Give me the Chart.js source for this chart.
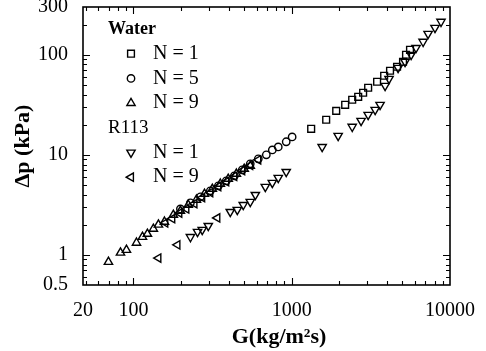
<!DOCTYPE html>
<html>
<head>
<meta charset="utf-8">
<script src="https://cdn.jsdelivr.net/npm/chart.js@4/dist/chart.umd.min.js"></script>
<style>
  html, body { margin: 0; padding: 0; background: #fff; }
</style>
</head>
<body>
<canvas id="chart" width="486" height="351"></canvas>
<script>
// axis ticks (the original labels the left end "20")
const xTickValues = [48, 100, 1000, 10000];
const xTickLabels = ['20', '100', '1000', '10000'];
const yTickValues = [0.5, 1, 10, 100, 300];
const yTickLabels = ['0.5', '1', '10', '100', '300'];

// Water, N = 1 (squares)
const waterN1G = [1327, 1651, 1910, 2176, 2410, 2630, 2826, 3040, 3463, 3837, 4180, 4630, 5050, 5275, 5590];
const waterN1P = [18.2, 22.4, 27.5, 31.6, 35.5, 38.0, 41.7, 46.8, 53.7, 61.7, 69.2, 75.9, 85.1, 100, 112];

// Water, N = 5 (circles)
const waterN5G = [198, 229, 265, 306, 344, 386, 434, 487, 547, 615, 691, 754, 822, 923, 1006];
const waterN5P = [2.88, 3.31, 3.80, 4.37, 4.90, 5.50, 6.17, 7.08, 8.13, 9.12, 10.0, 11.2, 12.0, 13.5, 15.1];

// Water, N = 9 (triangles up)
const waterN9G = [69.5, 82.8, 90.3, 104.5, 114, 122.5, 133.6, 143.8, 157, 178.7, 198, 222, 250, 281, 315, 354, 397, 447, 501, 547];
const waterN9P = [0.85, 1.05, 1.12, 1.32, 1.51, 1.62, 1.82, 2.0, 2.14, 2.51, 2.75, 3.16, 3.55, 4.07, 4.57, 5.13, 5.75, 6.46, 7.24, 7.76];

// R113, N = 1 (triangles down)
const r113N1G = [229, 254, 272, 297, 409, 453, 494, 547, 589, 681, 754, 822, 923,
                 1557, 1965, 2410, 2743, 3040, 3366, 3615,
                 3890, 4120, 4700, 5200, 5680, 6100, 6760, 7270, 8040, 8770];
const r113N1P = [1.51, 1.70, 1.78, 1.95, 2.69, 2.82, 3.16, 3.39, 3.98, 4.79, 5.25, 5.89, 6.76,
                 12.0, 15.5, 19.1, 21.9, 25.1, 28.2, 31.6,
                 49, 57.5, 74.1, 85.1, 100, 117, 135, 162, 186, 214];

// R113, N = 9 (triangles left)
const r113N9G = [143.8, 189.7, 339, 159, 176, 195, 216, 243, 272, 306, 344, 386, 434, 487, 547, 615];
const r113N9P = [0.93, 1.26, 2.34, 2.09, 2.30, 2.62, 2.88, 3.25, 3.74, 4.20, 4.82, 5.38, 6.10, 6.95, 7.85, 8.90];

const toPoints = (xs, ys) => xs.map((x, i) => ({ x, y: ys[i] }));

Chart.defaults.font.family = '"Liberation Serif", "Times New Roman", serif';
Chart.defaults.color = '#000';

function marker(label, group, style, rotation, radius, xs, ys) {
  return {
    label, group,
    data: toPoints(xs, ys),
    pointStyle: style,
    rotation: rotation,
    pointRadius: radius,
    pointHoverRadius: radius,
    pointBorderWidth: 1.4,
    borderColor: '#000',
    backgroundColor: 'rgba(0,0,0,0)',
    showLine: false
  };
}

function logMarks(min, max) {
  const out = [];
  for (let e = Math.floor(Math.log10(min)); e <= Math.ceil(Math.log10(max)); e++) {
    for (let m = 1; m < 10; m++) {
      const v = m * Math.pow(10, e);
      if (v > min * 1.001 && v < max * 0.999) out.push({ v, major: m === 1 });
    }
  }
  return out;
}

// frame with inward ticks on all four sides, plus axis titles
const framePlugin = {
  id: 'frame',
  afterDraw(chart) {
    const { ctx, chartArea: a, scales: { x, y } } = chart;
    ctx.save();
    ctx.strokeStyle = '#000';
    ctx.lineWidth = 1.6;
    ctx.strokeRect(a.left, a.top, a.right - a.left, a.bottom - a.top);
    ctx.lineWidth = 1.1;
    ctx.beginPath();
    logMarks(x.min, x.max).forEach(t => {
      const px = Math.round(x.getPixelForValue(t.v)) + 0.5;
      const len = t.major ? 7 : 4;
      ctx.moveTo(px, a.bottom); ctx.lineTo(px, a.bottom - len);
      ctx.moveTo(px, a.top); ctx.lineTo(px, a.top + len);
    });
    logMarks(y.min, y.max).forEach(t => {
      const py = Math.round(y.getPixelForValue(t.v)) + 0.5;
      const len = t.major ? 7 : 4;
      ctx.moveTo(a.left, py); ctx.lineTo(a.left + len, py);
      ctx.moveTo(a.right, py); ctx.lineTo(a.right - len, py);
    });
    ctx.stroke();

    ctx.fillStyle = '#000';
    ctx.font = 'bold 22px "Liberation Serif", serif';
    ctx.textAlign = 'center';
    ctx.textBaseline = 'middle';
    ctx.fillText('G(kg/m²s)', a.left + 196, 337);
    ctx.translate(23, (a.top + a.bottom) / 2);
    ctx.rotate(-Math.PI / 2);
    ctx.fillText('Δp (kPa)', 0, 0);
    ctx.restore();
  }
};

// grouped legend drawn inside the plot
const legendPlugin = {
  id: 'groupLegend',
  afterDraw(chart) {
    const { ctx, chartArea: a } = chart;
    ctx.save();
    ctx.fillStyle = '#000';
    ctx.strokeStyle = '#000';
    ctx.lineWidth = 1.4;
    ctx.textBaseline = 'middle';
    ctx.textAlign = 'left';
    let row = 0;
    let lastGroup = null;
    const rowY = r => a.top + 22 + r * 24.7;
    chart.data.datasets.forEach(ds => {
      if (ds.group !== lastGroup) {
        ctx.fillStyle = '#000';
        ctx.font = (ds.group === 'Water' ? 'bold 18px' : '19px') + ' "Liberation Serif", serif';
        ctx.fillText(ds.group, a.left + 25, rowY(row));
        row++;
        lastGroup = ds.group;
      }
      const yy = rowY(row);
      ctx.fillStyle = 'rgba(0,0,0,0)';
      Chart.helpers.drawPoint(ctx, {
        pointStyle: ds.pointStyle, rotation: ds.rotation,
        radius: ds.pointRadius, borderWidth: 1.4
      }, a.left + 48, yy);
      ctx.fillStyle = '#000';
      ctx.font = '20px "Liberation Serif", serif';
      ctx.fillText(ds.label, a.left + 70, yy);
      row++;
    });
    ctx.restore();
  }
};

new Chart(document.getElementById('chart'), {
  type: 'scatter',
  data: {
    datasets: [
      marker('N = 1', 'Water', 'rect', 0, 4.8, waterN1G, waterN1P),
      marker('N = 5', 'Water', 'circle', 0, 3.7, waterN5G, waterN5P),
      marker('N = 9', 'Water', 'triangle', 0, 4.8, waterN9G, waterN9P),
      marker('N = 1', 'R113', 'triangle', 180, 4.8, r113N1G, r113N1P),
      marker('N = 9', 'R113', 'triangle', 270, 4.8, r113N9G, r113N9P)
    ]
  },
  options: {
    responsive: false,
    animation: false,
    layout: { padding: { left: 0, right: 36, top: 7, bottom: 0 } },
    plugins: { legend: { display: false }, tooltip: { enabled: false } },
    scales: {
      x: {
        type: 'logarithmic',
        min: 48,
        max: 10000,
        grid: { display: false, drawTicks: false },
        border: { display: false },
        ticks: {
          padding: 14,
          font: { size: 20 },
          autoSkip: false,
          maxRotation: 0,
          callback: (v, i) => xTickLabels[i]
        },
        afterBuildTicks: s => { s.ticks = xTickValues.map(v => ({ value: v })); },
        afterFit: s => { s.height = 66; s.paddingLeft = 0; s.paddingRight = 0; }
      },
      y: {
        type: 'logarithmic',
        min: 0.5,
        max: 300,
        grid: { display: false, drawTicks: false },
        border: { display: false },
        ticks: {
          padding: 15,
          font: { size: 20 },
          autoSkip: false,
          callback: (v, i) => yTickLabels[i]
        },
        afterBuildTicks: s => { s.ticks = yTickValues.map(v => ({ value: v })); },
        afterFit: s => { s.width = 83; s.paddingTop = 0; s.paddingBottom = 0; }
      }
    }
  },
  plugins: [framePlugin, legendPlugin]
});
</script>
</body>
</html>
